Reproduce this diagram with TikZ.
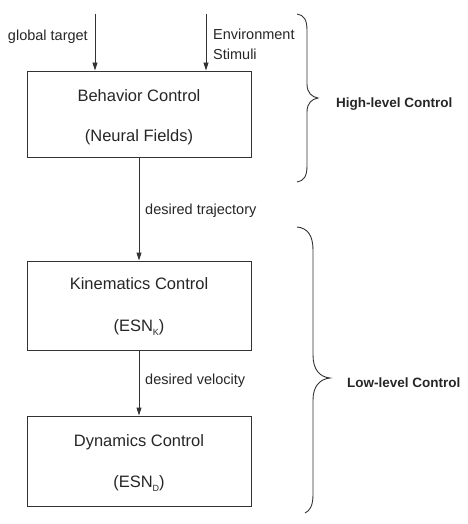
\documentclass[tikz,border=0pt]{standalone}
\usepackage{fontspec}
\setmainfont{Liberation Sans}
\usetikzlibrary{arrows.meta,calc}
\definecolor{ln}{HTML}{333333}
\newcommand{\subsc}[1]{\raisebox{-4pt}{\fontsize{9}{9}\selectfont #1}}
\begin{document}
\begin{tikzpicture}[x=1pt,y=-1pt,
  ctrlbox/.style={draw=ln,line width=0.9pt,rectangle,minimum width=224pt,inner sep=0pt},
  boxtxt/.style={anchor=base,inner sep=0pt,font=\fontsize{16.5}{18}\selectfont,text=black!85},
  lbl/.style={anchor=base west,inner sep=0pt,font=\fontsize{14.5}{16}\selectfont,text=black!85},
  bold/.style={anchor=base west,inner sep=0pt,font=\fontsize{13.5}{16}\selectfont\bfseries,text=black!85},
  arr/.style={draw=ln,line width=0.9pt,-{Triangle[length=8pt,width=5pt]}},
  brace/.style={draw=ln,line width=0.9pt}]
\useasboundingbox (0,0) rectangle (467,524);
% boxes
\node[ctrlbox,minimum height=86pt] (b1) at (139,114) {};
\node[ctrlbox,minimum height=89pt] (b2) at (139,305.5) {};
\node[ctrlbox,minimum height=90pt] (b3) at (139,461) {};
% box texts
\node[boxtxt] (t1a) at (139,102) {Behavior Control};
\node[boxtxt] (t1b) at (139,141) {(Neural Fields)};
\node[boxtxt] (t2a) at (139,289) {Kinematics Control};
\node[boxtxt] (t2b) at (139,331) {(ESN\subsc{K})};
\node[boxtxt] (t3a) at (139,446) {Dynamics Control};
\node[boxtxt] (t3b) at (139,487) {(ESN\subsc{D})};
% inputs
\coordinate (gt) at (95,14);
\coordinate (es) at (206,14);
\draw[arr] (gt) -- (gt |- b1.north);
\draw[arr] (es) -- (es |- b1.north);
\node[lbl,anchor=base east] (gtl) at (88,41) {global target};
\node[lbl,align=left] (esl) at (213,40) {Environment};
\node[lbl] (esl2) at (213,60) {Stimuli};
% connectors
\draw[arr] (b1.south) -- (b2.north);
\draw[arr] (b2.south) -- (b3.north);
\node[lbl] (dt) at (145,214) {desired trajectory};
\node[lbl] (dv) at (145,384) {desired velocity};
% braces
\draw[brace] (297,14) .. controls (304,15) and (307,20) .. (307,30) -- (307,84)
  .. controls (307,93) and (312,97) .. (318,98)
  .. controls (312,99) and (307,103) .. (307,112) -- (307,166)
  .. controls (307,176) and (304,181) .. (297,182);
\draw[brace] (297,227) .. controls (308,228) and (313,236) .. (313,250) -- (313,355)
  .. controls (313,370) and (320,377) .. (330,378)
  .. controls (320,379) and (313,386) .. (313,400) -- (313,495)
  .. controls (313,505) and (310,511) .. (305,513);
\node[bold] (hl) at (336,108) {High-level Control};
\node[bold] (ll) at (347,387) {Low-level Control};
\end{tikzpicture}
\end{document}
